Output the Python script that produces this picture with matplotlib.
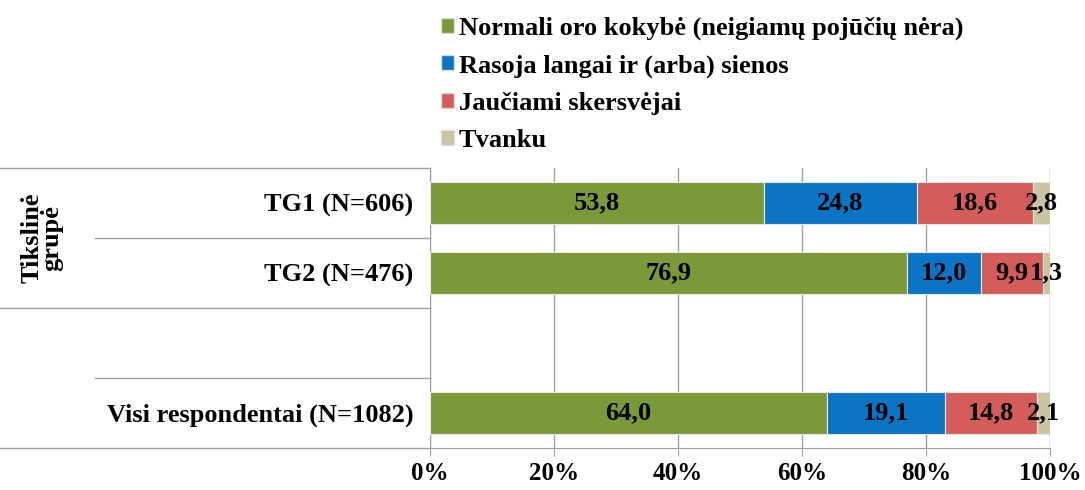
import matplotlib.pyplot as plt
from matplotlib.lines import Line2D
from matplotlib.patches import Patch
import numpy as np

plt.rcParams['font.family'] = ['Liberation Serif', 'DejaVu Serif']
plt.rcParams['font.weight'] = 'bold'

# rows from top to bottom; empty string = spacer row
groups = ["TG1 (N=606)", "TG2 (N=476)", "", "Visi respondentai (N=1082)"]
series_names = ["Normali oro kokybė (neigiamų pojūčių nėra)",
                "Rasoja langai ir (arba) sienos",
                "Jaučiami skersvėjai",
                "Tvanku"]
normali = [53.8, 76.9, 0, 64.0]
rasoja = [24.8, 12.0, 0, 19.1]
skersvejai = [18.6, 9.9, 0, 14.8]
tvanku = [2.8, 1.3, 0, 2.1]
colors = ["#7A9A3A", "#0B74C4", "#D45D5B", "#CBC4A0"]

values = [normali, rasoja, skersvejai, tvanku]
FS = 19

fig = plt.figure(figsize=(10.85, 4.9), dpi=100)
ax = fig.add_axes([430/1085, 1-448/490, 620/1085, 280/490])

ypos = np.arange(len(groups))[::-1]
left = np.zeros(len(groups))
for vals, col in zip(values, colors):
    vals = np.array(vals, dtype=float)
    keep = vals > 0
    bars = ax.barh(ypos[keep], vals[keep], left=left[keep], height=0.6, color=col,
                   edgecolor="#e8e8e8", linewidth=0.8, zorder=3)
    for b, v in zip(bars, vals[keep]):
        ax.text(b.get_x() + b.get_width()/2, b.get_y() + b.get_height()/2,
                f"{v:.1f}".replace(".", ","), ha="center", va="center",
                fontsize=FS, fontweight="bold", zorder=4)
    left += vals

ax.set_xlim(0, 100)
ax.set_ylim(-0.5, len(groups) - 0.5)
ax.set_xticks(np.arange(0, 101, 20))
ax.set_xticklabels([f"{t}%" for t in range(0, 101, 20)], fontsize=18, fontweight="bold")
ax.set_yticks(ypos)
ax.set_yticklabels(groups, fontsize=FS, fontweight="bold")
ax.tick_params(axis="y", length=0, pad=12)
ax.tick_params(axis="x", length=6, color="#a0a0a0", pad=4, direction="out")
ax.grid(axis="x", color="#a0a0a0", linewidth=1, zorder=0)
for s in ["top", "right"]:
    ax.spines[s].set_visible(False)
ax.spines["left"].set_color("#a0a0a0")
ax.spines["bottom"].set_color("#a0a0a0")

# row separator lines extending into the label area
trans = ax.get_yaxis_transform()
for yb, xs in [(3.5, -0.97), (2.5, -0.54), (1.5, -0.97), (0.5, -0.54), (-0.5, -0.97)]:
    ax.add_line(Line2D([xs, 0], [yb, yb], transform=trans, color="#a0a0a0",
                       linewidth=1, clip_on=False))

fig.text(42/1085, 1-238/490, "Tikslinė\ngrupė", rotation=90, ha="center", va="center",
         fontsize=FS, fontweight="bold", linespacing=0.85)

handles = [Patch(facecolor=c, edgecolor="#dddddd") for c in colors]
fig.legend(handles, series_names, loc="upper left", bbox_to_anchor=(426/1085, 1-2/490),
           frameon=False, fontsize=FS, handlelength=0.5, handleheight=0.5,
           handletextpad=0.2, labelspacing=0.54, borderaxespad=0.15)

fig.savefig("out.png", dpi=100)
